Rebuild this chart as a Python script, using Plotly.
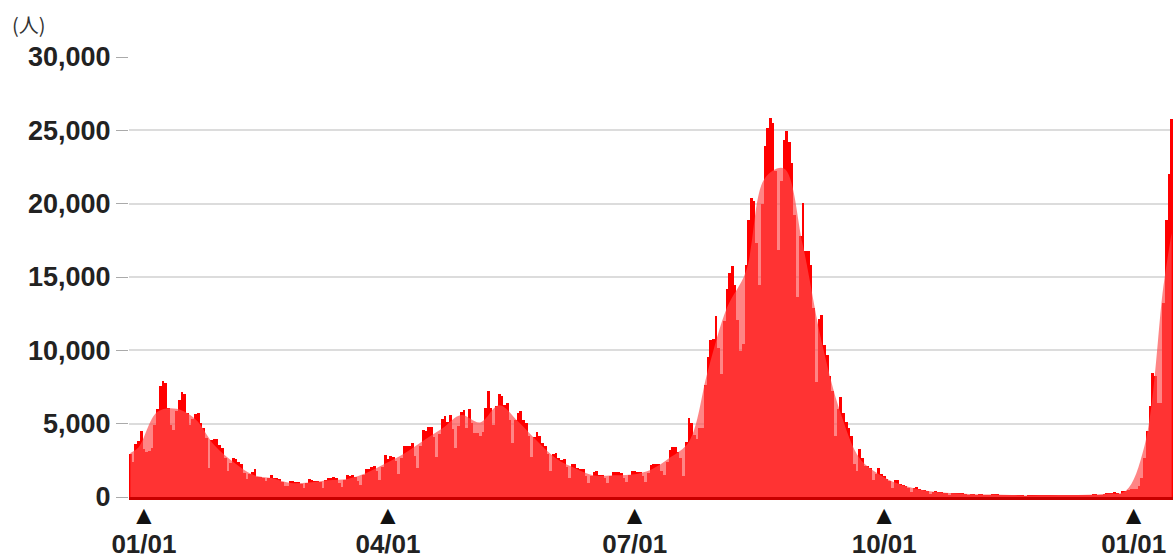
import pandas as pd
import plotly.graph_objects as go

# Daily new cases (people)
start_date = "2020-12-27"
dec_2020 = [2947, 2395, 3603, 3852, 4520]
jan_2021 = [3257, 3059, 3158, 3325, 4915, 6004, 7570, 7882, 7790, 6094, 4876, 4535, 5875, 6605, 7133, 7014,
            5759, 4925, 5320, 5654, 5701, 5045, 4717, 3990, 1985, 3853, 3959, 3979, 3534, 3343, 2673]
feb_2021 = [1792, 2324, 2631, 2576, 2368, 2283, 1608, 1218, 1567, 1713, 1881, 1358, 1361, 1289, 1068, 1307,
            1529, 1313, 1307, 1237, 1015, 739, 744, 1073, 1061, 1051, 995, 864]
mar_2021 = [637, 982, 1195, 1152, 1080, 1068, 1045, 600, 1130, 1320, 1300, 1332, 1303, 986, 679, 1141,
            1479, 1421, 1521, 1377, 1118, 815, 1520, 1919, 1917, 2077, 2081, 1780, 1153, 2064, 2843]
apr_2021 = [2599, 2770, 2761, 2469, 1571, 2654, 3451, 3447, 3480, 3697, 2779, 1956, 3451, 4570, 4532, 4801,
            4793, 4093, 2726, 4320, 5290, 5501, 5119, 5605, 4606, 3314, 4847, 5788, 5917, 4677]
may_2021 = [5991, 5019, 4359, 4370, 4167, 4409, 6055, 7234, 6054, 4888, 6237, 7056, 6869, 6256, 6420, 5228,
            3680, 5236, 5719, 5832, 5270, 5040, 4128, 2719, 4096, 4453, 4126, 3698, 3487, 2924, 1757]
jun_2021 = [2947, 3026, 2662, 2496, 2565, 2063, 1303, 2240, 2279, 1975, 1920, 1941, 1407, 930, 1436, 1721,
            1753, 1488, 1509, 1307, 950, 1440, 1708, 1674, 1692, 1626, 1299, 1056, 1478, 1775]
jul_2021 = [1748, 1679, 1681, 1443, 1020, 1649, 2182, 2243, 2246, 2278, 1807, 1499, 2385, 3194, 3418, 3405,
            3101, 2676, 1404, 3755, 5397, 5021, 4237, 3926, 4692, 4687, 7629, 9576, 10696, 10744, 12340]
aug_2021 = [10168, 8393, 12014, 14207, 15263, 15753, 14472, 12066, 9935, 10410, 15812, 18891, 20366, 20151,
            17286, 14455, 19955, 23917, 25156, 25868, 25492, 22230, 16832, 21572, 24315, 24948, 24192, 22746,
            19255, 13638, 17825]
sep_2021 = [20029, 16787, 16749, 15821, 12866, 7822, 12153, 12394, 10396, 9708, 8282, 7228, 4170, 6005, 6790,
            5755, 5085, 4734, 4180, 2221, 1768, 3242, 2685, 2127, 2128, 1963, 1143, 1573, 1970, 1586]
oct_2021 = [1439, 1242, 1087, 604, 1130, 1128, 895, 818, 781, 627, 369, 597, 705, 564, 502, 492, 430, 230,
            372, 388, 351, 325, 291, 257, 154, 289, 301, 287, 279, 259, 220]
nov_2021 = [86, 207, 235, 162, 231, 224, 162, 105, 168, 198, 223, 193, 157, 135, 81, 124, 161, 155, 140, 129,
            115, 50, 75, 130, 89, 116, 131, 117, 80, 106]
dec_2021 = [119, 108, 130, 138, 134, 74, 127, 146, 156, 138, 124, 131, 98, 147, 162, 170, 179, 199, 159, 134,
            195, 253, 260, 284, 313, 265, 204, 383, 401, 502, 553]
jan_2022 = [534, 561, 782, 1265, 2638, 4475, 6214, 8480, 8249, 6438, 6384, 13244, 18860, 22045, 25742]

avg_dates = ["2020-12-27", "2020-12-30", "2021-01-06", "2021-01-13", "2021-01-20", "2021-01-27", "2021-02-03",
             "2021-02-10", "2021-02-17", "2021-02-24", "2021-03-03", "2021-03-10", "2021-03-17", "2021-03-24",
             "2021-03-31", "2021-04-07", "2021-04-14", "2021-04-21", "2021-04-28", "2021-05-05", "2021-05-12",
             "2021-05-19", "2021-05-26", "2021-06-02", "2021-06-09", "2021-06-16", "2021-06-23", "2021-06-30",
             "2021-07-07", "2021-07-14", "2021-07-21", "2021-07-28", "2021-08-04", "2021-08-11", "2021-08-18",
             "2021-08-25", "2021-09-01", "2021-09-08", "2021-09-15", "2021-09-22", "2021-09-29", "2021-10-06",
             "2021-10-13", "2021-10-20", "2021-10-27", "2021-11-03", "2021-11-10", "2021-11-17", "2021-11-24",
             "2021-12-01", "2021-12-08", "2021-12-15", "2021-12-22", "2021-12-29", "2022-01-05", "2022-01-12",
             "2022-01-15"]
avg_values = [3000, 3376, 5806, 6019, 5303, 3520, 2378, 1529, 1293, 954, 997, 1147, 1229, 1635, 2281, 2967,
              3840, 4665, 5591, 5088, 6254, 5144, 3815, 2625, 1960, 1463, 1485, 1531, 1866, 2687, 3774, 8623,
              12896, 15376, 21733, 22405, 17158, 10517, 5681, 2622, 1559, 920, 551, 341, 261, 195, 172, 132,
              101, 114, 128, 155, 228, 406, 3488, 14423, 18000]

tick_dates = ["2021-01-01", "2021-04-01", "2021-07-01", "2021-10-01", "2022-01-01"]
tick_labels = ["01/01", "04/01", "07/01", "10/01", "01/01"]
tick_marker = "▲"
y_ticks = [0, 5000, 10000, 15000, 20000, 25000, 30000]
unit_label = "(人)"

daily = (dec_2020 + jan_2021 + feb_2021 + mar_2021 + apr_2021 + may_2021 + jun_2021 + jul_2021 +
         aug_2021 + sep_2021 + oct_2021 + nov_2021 + dec_2021 + jan_2022)
dates = pd.date_range(start_date, periods=len(daily), freq="D")

fig = go.Figure()
fig.add_trace(go.Bar(x=dates, y=daily, marker=dict(color="#ff0000", line=dict(width=0)),
                     hoverinfo="x+y"))
fig.add_trace(go.Scatter(x=avg_dates, y=avg_values, mode="lines", line=dict(width=0, shape="spline"),
                         fill="tozeroy", fillcolor="rgba(255,75,75,0.68)", hoverinfo="skip"))
# invisible trace to carry the triangle tick axis
fig.add_trace(go.Scatter(x=[dates[0]], y=[daily[0]], xaxis="x2", mode="markers",
                         marker=dict(opacity=0), hoverinfo="skip", showlegend=False))

font_main = "Liberation Sans, Arial, sans-serif"
x_range = ["2020-12-26 12:00", "2022-01-15 12:00"]
fig.update_layout(
    width=1173, height=559,
    margin=dict(l=129, r=0, t=57, b=62, autoexpand=False),
    paper_bgcolor="white", plot_bgcolor="white",
    showlegend=False, bargap=0,
    font=dict(family=font_main, color="#222"),
    xaxis=dict(
        type="date", automargin=False,
        range=x_range,
        tickvals=tick_dates,
        ticktext=tick_labels,
        tickfont=dict(size=26, family=font_main, color="#222", weight="bold"),
        showgrid=False, ticks="", showline=True, linecolor="#c80000", linewidth=3,
        zeroline=False, ticklabelstandoff=22,
    ),
    xaxis2=dict(
        type="date", automargin=False, overlaying="x", anchor="y", side="bottom",
        range=x_range,
        tickvals=tick_dates,
        ticktext=[tick_marker] * len(tick_dates),
        tickfont=dict(size=26, family=font_main, color="#111"),
        showgrid=False, ticks="", showline=False, zeroline=False,
        ticklabelstandoff=0,
    ),
    yaxis=dict(
        automargin=False,
        range=[0, 30000],
        tickvals=y_ticks,
        tickformat=",",
        ticks="outside", ticklen=12, tickcolor="#aaaaaa", tickwidth=1,
        tickfont=dict(size=27, family=font_main, color="#222", weight="bold"),
        showgrid=True, gridcolor="#dcdcdc", gridwidth=2,
        zeroline=False, showline=False,
    ),
    annotations=[dict(text=unit_label, xref="paper", yref="paper", x=-0.114, y=1.075,
                      xanchor="left", yanchor="middle", showarrow=False,
                      font=dict(size=20, color="#333", family="Noto Sans CJK JP"))],
)

fig.write_html("out.html", config={"displayModeBar": False},
               post_script="document.body.style.margin='0';document.body.style.overflow='hidden';")
